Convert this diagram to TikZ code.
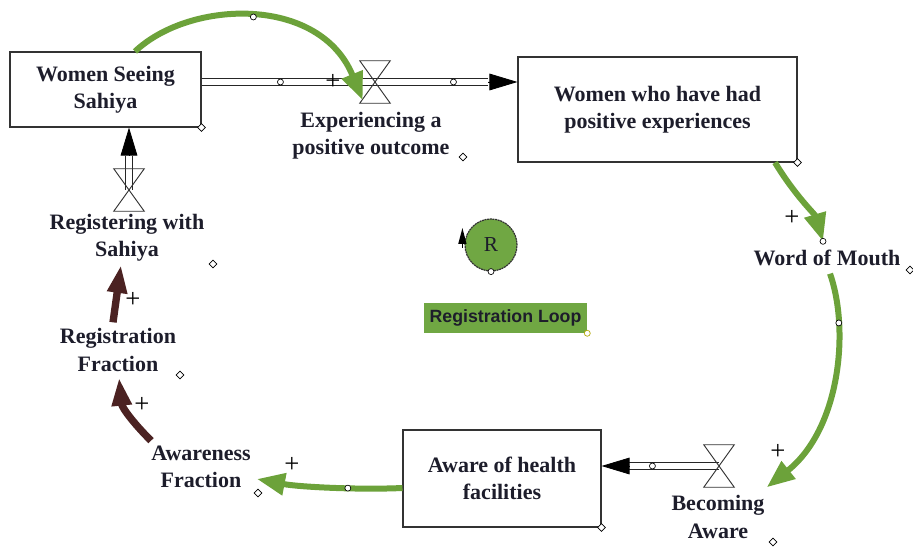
\documentclass[tikz,border=0pt]{standalone}
\usepackage{fontspec}
\setmainfont{Liberation Serif}
\newfontfamily\loopfont{Liberation Sans}
\usetikzlibrary{arrows.meta,calc,shapes.geometric}
\definecolor{linkgreen}{HTML}{6CA23A}
\definecolor{linkbrown}{HTML}{4B2222}
\definecolor{loopgreen}{HTML}{70A743}
\definecolor{inktext}{HTML}{1D1D2B}
\begin{document}
\begin{tikzpicture}[x=0.75pt,y=-0.75pt,
  every node/.style={inner sep=0pt},
  lab/.style={font=\bfseries\fontsize{16.5}{20.5}\selectfont, text=inktext, align=center},
  stock/.style={lab, draw=black!80, line width=0.8pt, fill=white},
  valve/.style={minimum width=22.5pt, minimum height=31.5pt},
  pipe/.style={draw=black!85, line width=0.6pt, double=white, double distance=4.5pt},
  pipehead/.style={draw=black, fill=black, line width=0.6pt, -{Triangle[length=21pt,width=12.5pt]}},
  infl/.style={draw=linkgreen, line width=4.5pt, -{Triangle[length=21pt,width=16pt]}},
  inflb/.style={draw=linkbrown, line width=5.5pt, -{Triangle[length=21pt,width=14pt]}},
  handle/.style={circle, draw=black, fill=white, line width=0.5pt, minimum size=4.5pt},
  corner/.style={diamond, draw=black, fill=white, line width=0.5pt, minimum size=6pt},
  plus/.style={font=\fontsize{20}{20}\selectfont, text=black},
]
\useasboundingbox (0,0) rectangle (913,548);

% stocks
\node[stock, minimum width=143.25pt, minimum height=56.25pt] (ws) at (105.5,89.5) {Women Seeing\\Sahiya};
\node[stock, minimum width=209.25pt, minimum height=78.75pt] (wp) at (657.5,109.5) {Women who have had\\positive experiences};
\node[stock, minimum width=148.5pt, minimum height=72.75pt] (ah) at (502,478.5) {Aware of health\\facilities};

% flow valves
\node[valve] (v1) at (375,82) {};
\node[valve] (v2) at (719,466) {};
\node[valve] (v3) at (129,190) {};

% variable labels
\node[lab] (exp) at (371,136) {Experiencing a\\positive outcome};
\node[lab] (wom) at (827,258) {Word of Mouth};
\node[lab] (ba) at (718,517) {Becoming\\Aware};
\node[lab] (af) at (201,467) {Awareness\\Fraction};
\node[lab] (rf) at (118,350) {Registration\\Fraction};
\node[lab] (rws) at (127,238) {Registering with\\Sahiya};

% pipes
\coordinate (p1end) at ($(wp.west |- v1.center)+(-29,0)$);
\draw[pipe] (ws.east |- v1.center) -- (p1end) node[handle,pos=0.275] (h1) {} node[handle,pos=0.878] (h2) {};
\draw[pipehead] (p1end) -- (wp.west |- v1.center);

\coordinate (p2end) at ($(ah.east |- v2.center)+(27,0)$);
\draw[pipe] (v2.center) -- (p2end) node[handle,pos=0.736] (h3) {};
\draw[pipehead] (p2end) -- (ah.east |- v2.center);

\coordinate (p3end) at ($(ws.south -| v3.center)+(0,28)$);
\draw[pipe] (v3.center) -- (p3end);
\draw[pipehead] (p3end) -- (ws.south -| v3.center);

% hourglass symbols
\foreach \v in {v1,v2,v3}
  \draw[line width=0.7pt, draw=black!80] (\v.north west) -- (\v.north east) -- (\v.south west) -- (\v.south east) -- cycle;

% causal links
\draw[infl] ($(ws.north)+(29.5,0)$) .. controls +(55,-52) and +(-43,-105) .. ($(v1.south west)+(3,-3)$) node[handle,pos=0.5] (h0) {};
\draw[infl] ($(wp.south)+(117.5,0)$) .. controls +(20,33) and +(-8,-27) .. ($(wom.north)+(-4,-8.5)$) node[handle,pos=1] (h4) {};
\draw[infl] ($(wom.south)+(3,7.5)$) .. controls +(20,57) and +(73,-58) .. ($(ba.north east)+(2,-8)$) node[handle,pos=0.25] (h5) {};
\draw[infl] ($(ah.west)+(0,9.5)$) .. controls +(-43,2) and +(42,8) .. ($(af.east)+(6,12)$) node[handle,pos=0.38] (h6) {};
\draw[inflb] ($(af.north west)+(0,-5)$) .. controls +(-18,-18) and +(3,30) .. ($(rf.south)+(1,6)$);
\draw[inflb] ($(rf.north)+(-5,-6)$) -- ($(rws.south)+(-6,3)$);

% polarity signs
\node[plus] (s1) at (333,82) {+};
\node[plus] (s2) at (792,218) {+};
\node[plus] (s3) at (778,452) {+};
\node[plus] (s4) at (292,465) {+};
\node[plus] (s5) at (142,405) {+};
\node[plus] (s6) at (133,300) {+};

% corner handles
\node[corner] (d1) at (ws.south east) {};
\node[corner] (d2) at (463,157) {};
\node[corner] (d3) at (wp.south east) {};
\node[corner] (d4) at (910,270) {};
\node[corner] (d5) at (773,542) {};
\node[corner] (d6) at (ah.south east) {};
\node[corner] (d7) at (258,493) {};
\node[corner] (d8) at (180,375) {};
\node[corner] (d9) at (213,264) {};

% loop identifier
\node[circle, minimum size=39pt, fill=loopgreen, draw=black!80, line width=0.9pt,
      dash pattern=on 1.5pt off 0.5pt, font=\fontsize{16}{16}\selectfont, text=inktext] (R) at (491,245) {R};
\draw[-{Triangle[length=12pt,width=6pt]}, line width=1pt] ($(R.west)+(-2,3)$) -- ($(R.west)+(-2,-17)$);
\node[handle] (hR) at (R.south) {};

\node[fill=loopgreen, minimum width=122.25pt, minimum height=22.5pt,
      font=\loopfont\bfseries\fontsize{13.3}{14}\selectfont, text=inktext] (RL) at (505.5,318) {Registration Loop};
\node[handle, draw=olive!70!yellow] (hRL) at (RL.south east) {};
\end{tikzpicture}
\end{document}
